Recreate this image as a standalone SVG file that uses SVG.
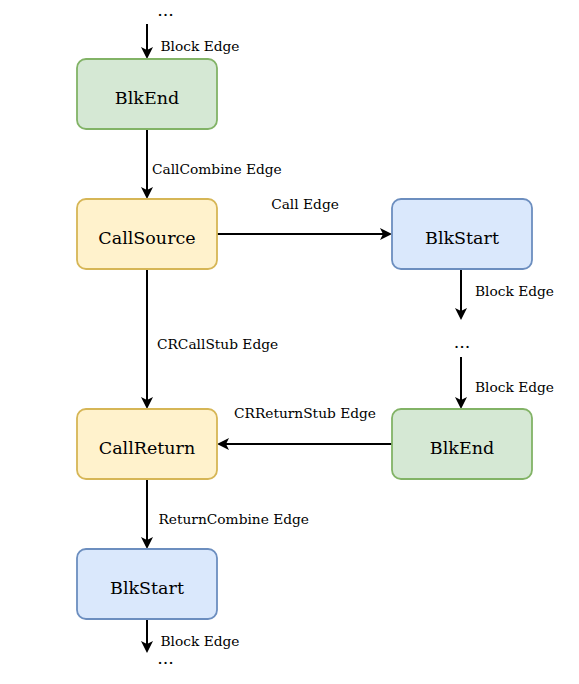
<svg xmlns="http://www.w3.org/2000/svg" width="579" height="684" viewBox="0 0 579 684">
<defs>
<marker id="arr" viewBox="0 0 12 12" refX="7" refY="6" markerWidth="12" markerHeight="12" markerUnits="userSpaceOnUse" orient="auto">
<path d="M0,0 L12,6 L0,12 L3,6 Z" fill="#000"/>
</marker>
<style>
.n rect{stroke-width:1.8}
.g rect{fill:#d5e8d4;stroke:#82b366}
.y rect{fill:#fff2cc;stroke:#d6b656}
.b rect{fill:#dae8fc;stroke:#6c8ebf}
.n text{font-family:'DejaVu Serif',serif;font-size:17.5px;text-anchor:middle;fill:#000}
.e line{stroke:#000;stroke-width:2;marker-end:url(#arr)}
.l{font-family:'DejaVu Serif',serif;font-size:13.75px;fill:#000}
.c{text-anchor:middle}
.d{font-family:'DejaVu Serif',serif;font-size:17.5px;fill:#000;text-anchor:middle}
</style>
</defs>
<rect width="579" height="684" fill="#fff"/>
<g id="edges" class="e">
<line x1="147" y1="24" x2="147" y2="54"/>
<line x1="147" y1="129" x2="147" y2="194"/>
<line x1="217" y1="234" x2="387" y2="234"/>
<line x1="461" y1="269" x2="461" y2="315"/>
<line x1="461" y1="357" x2="461" y2="404"/>
<line x1="147" y1="269" x2="147" y2="404"/>
<line x1="392" y1="444" x2="222" y2="444"/>
<line x1="147" y1="479" x2="147" y2="544"/>
<line x1="147" y1="619" x2="147" y2="648"/>
</g>
<g id="labels">
<text class="d" x="165.5" y="16">...</text>
<text class="l" x="160.5" y="51">Block Edge</text>
<text class="l" x="152" y="174">CallCombine Edge</text>
<text class="l c" x="305" y="209">Call Edge</text>
<text class="l" x="475" y="296">Block Edge</text>
<text class="d" x="462" y="348">...</text>
<text class="l" x="475" y="392">Block Edge</text>
<text class="l" x="157" y="349">CRCallStub Edge</text>
<text class="l c" x="305" y="418">CRReturnStub Edge</text>
<text class="l" x="158.5" y="524">ReturnCombine Edge</text>
<text class="l" x="160.5" y="646">Block Edge</text>
<text class="d" x="165.5" y="664">...</text>
</g>
<g id="n1" class="n g"><rect x="77" y="59" width="140" height="70" rx="9"/><text x="147" y="104">BlkEnd</text></g>
<g id="n2" class="n y"><rect x="77" y="199" width="140" height="70" rx="9"/><text x="147" y="244">CallSource</text></g>
<g id="n3" class="n b"><rect x="392" y="199" width="140" height="70" rx="9"/><text x="462" y="244">BlkStart</text></g>
<g id="n4" class="n g"><rect x="392" y="409" width="140" height="70" rx="9"/><text x="462" y="454">BlkEnd</text></g>
<g id="n5" class="n y"><rect x="77" y="409" width="140" height="70" rx="9"/><text x="147" y="454">CallReturn</text></g>
<g id="n6" class="n b"><rect x="77" y="549" width="140" height="70" rx="9"/><text x="147" y="594">BlkStart</text></g>
</svg>
